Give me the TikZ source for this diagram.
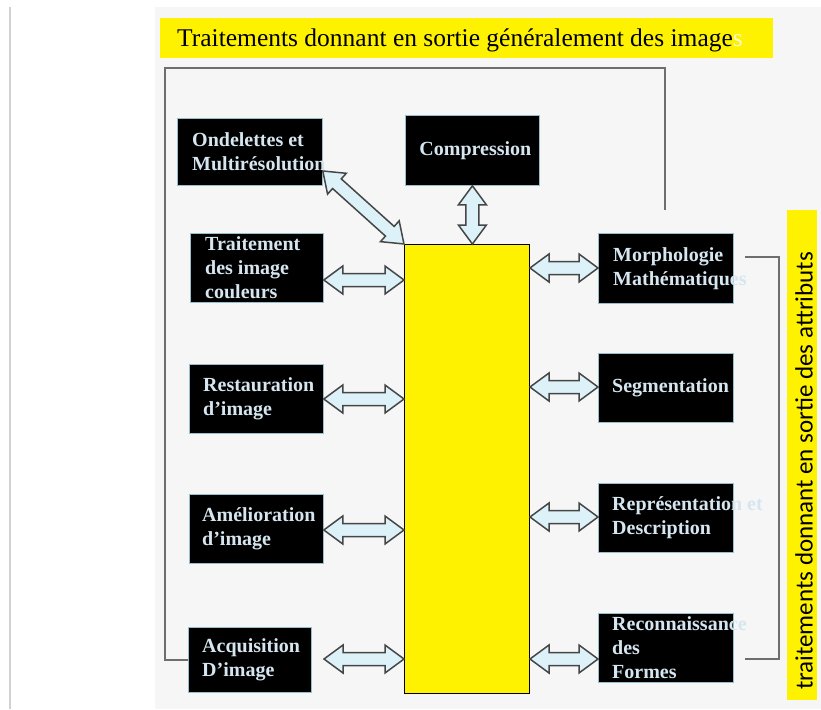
\documentclass[tikz,border=0pt]{standalone}
\usepackage{fontspec}
\setmainfont{Liberation Serif}
\newfontfamily\boxfont{Liberation Serif}
\newfontfamily\sidefont{Carlito}
\usetikzlibrary{calc}

\definecolor{slidebg}{RGB}{246,246,246}
\definecolor{boxtxt}{RGB}{214,230,240}
\definecolor{boxedge}{RGB}{150,190,205}
\definecolor{arrowfill}{RGB}{220,242,248}
\definecolor{arrowedge}{RGB}{70,70,70}
\definecolor{linegray}{RGB}{110,110,110}
\definecolor{paleletter}{RGB}{250,250,215}

% double-headed block arrow between two points
\newcommand\blockarrow[2]{%
  \draw[fatarrow] let \p1=(#1), \p2=(#2),
    \n1={atan2(\y2-\y1,\x2-\x1)}, \n2={veclen(\x2-\x1,\y2-\y1)} in
    [shift={(\p1)}, rotate=\n1]
    (0pt,0pt) -- (19pt,14pt) -- (19pt,6.5pt) -- ({\n2-19pt},6.5pt)
    -- ({\n2-19pt},14pt) -- ({\n2*1pt},0pt) -- ({\n2-19pt},-14pt)
    -- ({\n2-19pt},-6.5pt) -- (19pt,-6.5pt) -- (19pt,-14pt) -- cycle;}

\begin{document}
\begin{tikzpicture}[x=1pt,y=-1pt,
  darkbox/.style={fill=black, draw=boxedge, line width=0.8pt, inner sep=0pt,
    anchor=north west},
  boxtext/.style={anchor=west, inner sep=0pt, align=left, text=boxtxt,
    font=\boxfont\bfseries\fontsize{20}{24}\selectfont},
  fatarrow/.style={fill=arrowfill, draw=arrowedge, line width=1.5pt,
    line join=miter},
  bracket/.style={draw=linegray, line width=1.3pt},
  core/.style={fill=yellow, draw=black, line width=1pt, inner sep=0pt,
    anchor=north west}]

\useasboundingbox (0,0) rectangle (821,709);
\fill[white] (0,0) rectangle (821,709);
\fill[slidebg] (155,7) rectangle (821,709);
\draw[black!18, line width=1.5pt] (10,7) -- (10,709);

% banners
\node[fill=yellow, inner sep=0pt, anchor=north west, minimum width=613,
  minimum height=40] (banner) at (160,18) {};
\node[anchor=base west, inner sep=0pt,
  font=\boxfont\mdseries\fontsize{25.5}{30}\selectfont] (bannerT) at (177,46)
  {Traitements donnant en sortie généralement des image\textcolor{paleletter}{s}};

\node[fill=yellow, inner sep=0pt, anchor=north west, minimum width=30,
  minimum height=490] (side) at (787,210) {};
\node[rotate=90, inner sep=0pt, font=\sidefont\fontsize{25}{30}\selectfont]
  (sideT) at (804,471) {traitements donnant en sortie des attributs};

% central block
\node[core, minimum width=125, minimum height=449] (core) at (404,244) {};

% left column
\node[darkbox, minimum width=145, minimum height=67] (ond) at (177,118) {};
\node[boxtext] (ondT) at ([xshift=15pt]ond.west) {Ondelettes et\\Multirésolution};

\node[darkbox, minimum width=133, minimum height=69] (trt) at (190,233) {};
\node[boxtext] (trtT) at ([xshift=15pt]trt.west) {Traitement\\des image\\couleurs};

\node[darkbox, minimum width=134, minimum height=69] (rst) at (189,364) {};
\node[boxtext] (rstT) at ([xshift=14pt]rst.west) {Restauration\\d’image};

\node[darkbox, minimum width=134, minimum height=69] (aml) at (189,494) {};
\node[boxtext] (amlT) at ([xshift=13pt]aml.west) {Amélioration\\d’image};

\node[darkbox, minimum width=123, minimum height=65] (acq) at (188,627) {};
\node[boxtext] (acqT) at ([xshift=14pt]acq.west) {Acquisition\\D’image};

% top
\node[darkbox, minimum width=134, minimum height=70] (comp) at (405,115) {};
\node[boxtext, anchor=center] (compT) at ([xshift=3pt]comp.center) {Compression};

% right column
\node[darkbox, minimum width=135, minimum height=70] (mor) at (598,233) {};
\node[boxtext] (morT) at ([xshift=15pt]mor.west) {Morphologie\\Mathématiques};

\node[darkbox, minimum width=135, minimum height=69] (seg) at (598,353) {};
\node[boxtext] (segT) at ([xshift=14pt]seg.west) {Segmentation};

\node[darkbox, minimum width=135, minimum height=69] (rep) at (598,483) {};
\node[boxtext] (repT) at ([xshift=14pt]rep.west) {Représentation et\\Description};

\node[darkbox, minimum width=135, minimum height=69] (rec) at (598,613) {};
\node[boxtext] (recT) at ([xshift=14pt]rec.west) {Reconnaissance\\des\\Formes};

% grouping brackets
\coordinate (tl) at (165,68);
\coordinate (tr) at (665,210);
\draw[bracket] (acq.west) -| (tl) -| (tr);
\coordinate (rt) at (745,257);
\coordinate (rc) at (779,257);
\coordinate (rb) at (745,659);
\draw[bracket] (rt) -- (rc) |- (rb);

% arrows
\blockarrow{ond.east |- 0,171}{core.north west}
\blockarrow{comp.south}{comp.south |- core.north}
\blockarrow{trt.east |- 0,280}{core.west |- 0,280}
\blockarrow{rst.east |- 0,399}{core.west |- 0,399}
\blockarrow{aml.east |- 0,530}{core.west |- 0,530}
\coordinate (acqA) at (324,659);
\blockarrow{acqA}{core.west |- acqA}
\blockarrow{core.east |- 0,268}{mor.west |- 0,268}
\blockarrow{core.east |- 0,387}{seg.west |- 0,387}
\blockarrow{core.east |- 0,517}{rep.west |- 0,517}
\blockarrow{core.east |- 0,659}{rec.west |- 0,659}

\end{tikzpicture}
\end{document}
